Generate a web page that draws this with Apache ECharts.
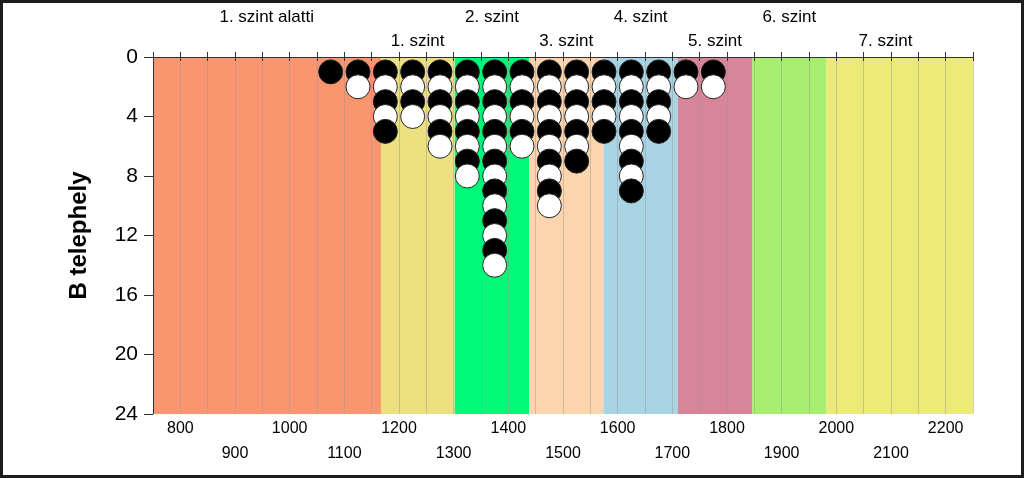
<!DOCTYPE html>
<html>
<head>
<meta charset="utf-8">
<script src="https://cdn.jsdelivr.net/npm/echarts@6/dist/echarts.min.js"></script>
<style>
  html, body { margin: 0; padding: 0; background: #fff; }
  #chart { position: absolute; left: 0; top: 0; width: 1024px; height: 478px; }
  #frame { position: absolute; left: 0; top: 0; width: 1024px; height: 478px; box-sizing: border-box; border: 3px solid #1c1c1c; pointer-events: none; }
</style>
</head>
<body>
<div id="chart"></div>
<div id="frame"></div>
<script>
// ---- data ----
const binCenters = [1075, 1125, 1175, 1225, 1275, 1325, 1375, 1425, 1475, 1525, 1575, 1625, 1675, 1725, 1775];
const binCounts  = [1, 2, 5, 4, 6, 8, 14, 6, 10, 7, 5, 9, 5, 2, 2];
const bandBounds = [750, 1167, 1302, 1438, 1574, 1710, 1846, 1982, 2250];
const bandColors = ['#F9956F', '#ECE080', '#00FA78', '#FCD4AE', '#A8D4E4', '#D68698', '#A8EE70', '#ECEA78'];
const levelNames = ['1. szint alatti', '1. szint', '2. szint', '3. szint', '4. szint', '5. szint', '6. szint', '7. szint'];
const levelLabelX = [958, 1234, 1370, 1506, 1642, 1778, 1914, 2090];
const levelLabelRow = [0, 1, 0, 1, 0, 1, 0, 1];
const xMin = 750, xMax = 2250, xStep = 50, xLabelStep = 100;
const yMin = 0, yMax = 24, yStep = 4;
const yAxisName = 'B telephely';

const FONT = "'Liberation Sans', Arial, sans-serif";

// stacked dots built from counts
const dots = [];
binCenters.forEach((x, i) => {
  for (let k = 1; k <= binCounts[i]; k++) {
    const black = (k % 2 === 1);
    dots.push({
      value: [x, k],
      itemStyle: { color: black ? '#000' : '#fff', borderColor: '#222', borderWidth: 1, opacity: 1 }
    });
  }
});

const bands = [];
for (let i = 0; i < bandColors.length; i++) {
  bands.push([
    { xAxis: bandBounds[i], yAxis: yMin, itemStyle: { color: bandColors[i], opacity: 1 } },
    { xAxis: bandBounds[i + 1], yAxis: yMax }
  ]);
}

const chart = echarts.init(document.getElementById('chart'), null, { renderer: 'canvas' });
const gridTop = 57, gridLeft = 153, gridRight = 51, gridBottom = 64;

chart.setOption({
  animation: false,
  textStyle: { fontFamily: FONT },
  grid: { left: gridLeft, right: gridRight, top: gridTop, bottom: gridBottom },
  xAxis: [
    {
      type: 'value', position: 'bottom', min: xMin, max: xMax, interval: xStep, z: 2,
      axisLine: { show: true, lineStyle: { color: '#333', width: 1 } },
      axisTick: { show: true, length: 4, lineStyle: { color: '#333' } },
      splitLine: { show: true, lineStyle: { color: 'rgba(150,150,150,0.45)', width: 1 } },
      axisLabel: {
        color: '#000', fontSize: 16, fontFamily: FONT, margin: 2, lineHeight: 25,
        formatter: function (v) {
          if (v % xLabelStep !== 0) return '';
          return ((v / xLabelStep) % 2 === 0) ? String(v) : '\n' + v;
        }
      }
    },
    {
      type: 'value', position: 'top', min: xMin, max: xMax, interval: xStep, z: 2,
      axisLine: { show: true, lineStyle: { color: '#333', width: 1 } },
      axisTick: { show: true, length: 5, lineStyle: { color: '#333' } },
      splitLine: { show: false },
      axisLabel: { show: false }
    }
  ],
  yAxis: {
    type: 'value', inverse: true, min: yMin, max: yMax, interval: yStep, z: 2,
    name: yAxisName, nameLocation: 'middle', nameGap: 62,
    nameTextStyle: { fontSize: 24, fontWeight: 'bold', color: '#000', fontFamily: FONT },
    axisLine: { show: true, lineStyle: { color: '#333', width: 1 } },
    axisTick: { show: true, length: 9, lineStyle: { color: '#333' } },
    splitLine: { show: false },
    axisLabel: { color: '#000', fontSize: 21, margin: 15, fontFamily: FONT }
  },
  series: [
    {
      type: 'scatter', name: 'bands', z: 1, data: [], silent: true,
      markArea: { silent: true, label: { show: false }, data: bands }
    },
    {
      type: 'scatter', name: 'dots', z: 3, symbol: 'circle', symbolSize: 24,
      itemStyle: { opacity: 1 },
      data: dots, silent: true
    }
  ]
});

// level labels positioned via the axis scale
const rowY = [gridTop - 40, gridTop - 16];
const texts = levelNames.map((name, i) => ({
  type: 'text',
  x: chart.convertToPixel({ xAxisIndex: 0 }, levelLabelX[i]),
  y: rowY[levelLabelRow[i]],
  style: { text: name, fill: '#000', font: '17px ' + FONT, textAlign: 'center', textVerticalAlign: 'middle' }
}));
chart.setOption({ graphic: texts });
</script>
</body>
</html>
